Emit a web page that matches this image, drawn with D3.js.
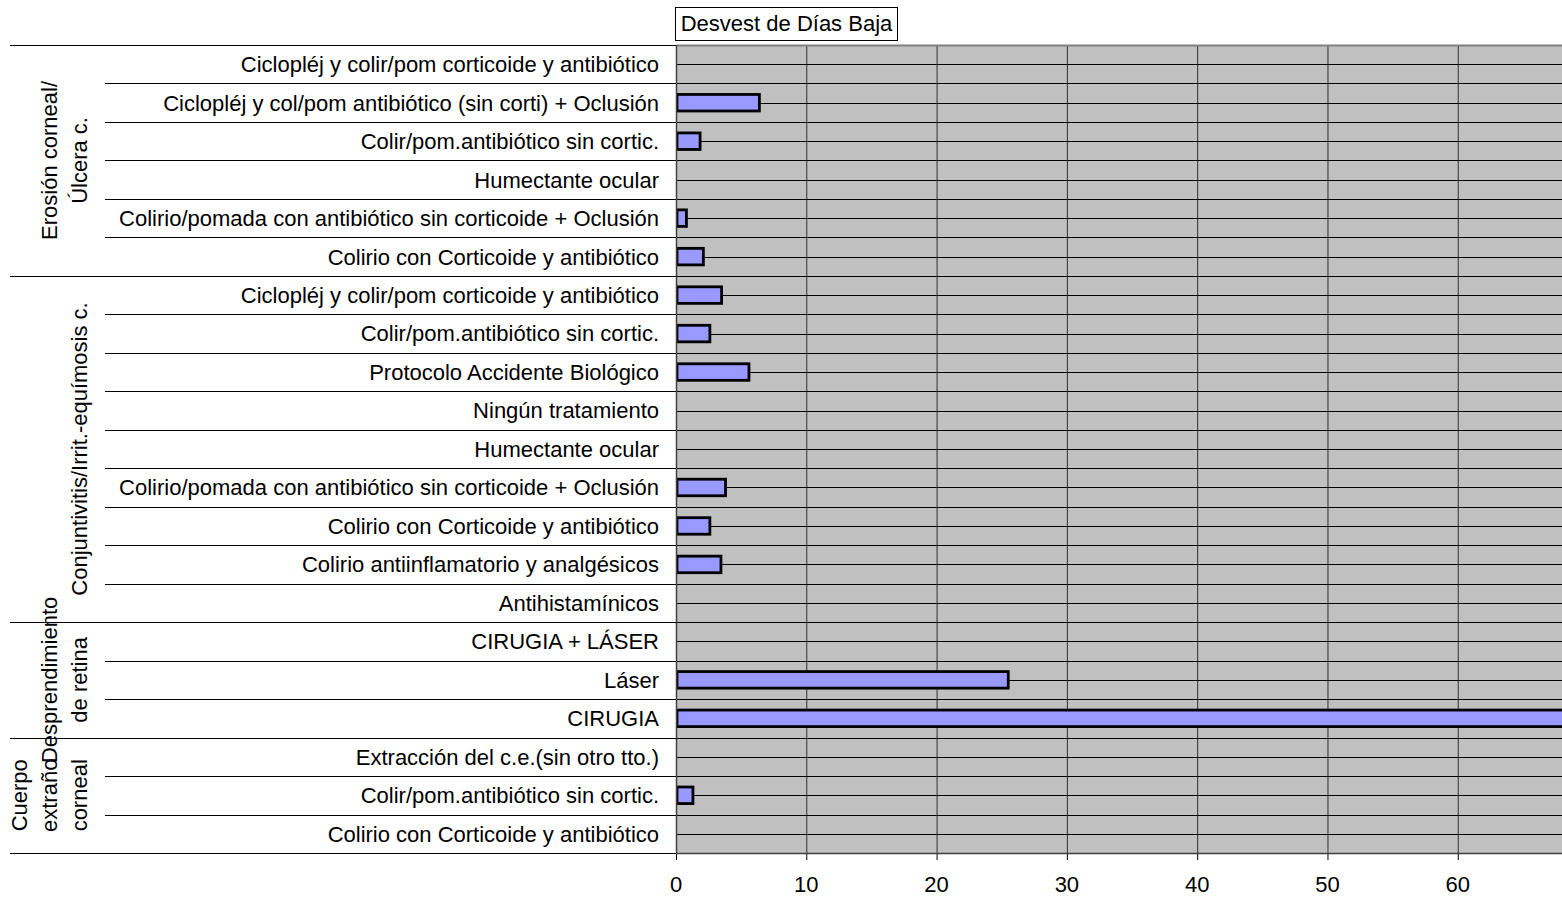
<!DOCTYPE html>
<html>
<head>
<meta charset="utf-8">
<script src="https://cdn.jsdelivr.net/npm/d3@7"></script>
<style>
  html, body { margin: 0; padding: 0; background: #fff; }
  text { font-family: Arial, "Liberation Sans", sans-serif; }
</style>
</head>
<body>
<svg id="chart" width="1562" height="897"></svg>
<script>
// ---- Data ----
const title = "Desvest de Días Baja";

const categories = [
  "Ciclopléj y colir/pom corticoide y antibiótico",
  "Ciclopléj y col/pom antibiótico (sin corti) + Oclusión",
  "Colir/pom.antibiótico sin cortic.",
  "Humectante ocular",
  "Colirio/pomada con antibiótico sin corticoide + Oclusión",
  "Colirio con Corticoide y antibiótico",
  "Ciclopléj y colir/pom corticoide y antibiótico",
  "Colir/pom.antibiótico sin cortic.",
  "Protocolo Accidente Biológico",
  "Ningún tratamiento",
  "Humectante ocular",
  "Colirio/pomada con antibiótico sin corticoide + Oclusión",
  "Colirio con Corticoide y antibiótico",
  "Colirio antiinflamatorio y analgésicos",
  "Antihistamínicos",
  "CIRUGIA + LÁSER",
  "Láser",
  "CIRUGIA",
  "Extracción del c.e.(sin otro tto.)",
  "Colir/pom.antibiótico sin cortic.",
  "Colirio con Corticoide y antibiótico"
];
// index of the group each category belongs to
const categoryGroup = [0,0,0,0,0,0, 1,1,1,1,1,1,1,1,1, 2,2,2, 3,3,3];

const values = [
  0, 6.4, 1.85, 0, 0.8, 2.1,
  3.5, 2.6, 5.6, 0, 0, 3.8, 2.6, 3.45, 0,
  0, 25.5, 75,
  0, 1.3, 0
];

const groupLabels = [
  ["Erosión corneal/", "Úlcera c."],
  ["Conjuntivitis/Irrit.-equímosis c."],
  ["Desprendimiento", "de retina"],
  ["Cuerpo", "extraño", "corneal"]
];

const xTicks = [0, 10, 20, 30, 40, 50, 60];

// ---- Layout ----
const W = 1562, H = 897;
const plot = { left: 676, right: 1562, top: 45, bottom: 853 };
const fontSize = 22;

const svg = d3.select("#chart");

const x = d3.scaleLinear().domain([0, 68]).range([plot.left, plot.right]);
const keys = categories.map((c, i) => i);
const y = d3.scaleBand().domain(keys).range([plot.top, plot.bottom]).padding(0);
const step = y.step();
const barH = step * 0.43;

// plot background
svg.append("rect")
  .attr("x", plot.left).attr("y", plot.top)
  .attr("width", plot.right - plot.left).attr("height", plot.bottom - plot.top)
  .attr("fill", "#C0C0C0");

svg.append("defs").append("clipPath").attr("id", "clip")
  .append("rect")
  .attr("x", plot.left).attr("y", plot.top)
  .attr("width", plot.right - plot.left).attr("height", plot.bottom - plot.top);

// vertical grid
svg.append("g").selectAll("line").data(xTicks).join("line")
  .attr("x1", d => x(d) + 0.5).attr("x2", d => x(d) + 0.5)
  .attr("y1", plot.top).attr("y2", plot.bottom)
  .attr("stroke", "#303030").attr("stroke-width", 1);

// horizontal grid at row boundaries and row centres
const hLines = [];
keys.forEach(k => { hLines.push(y(k)); hLines.push(y(k) + step / 2); });
svg.append("g").selectAll("line").data(hLines.filter(v => v > plot.top + 1)).join("line")
  .attr("x1", plot.left).attr("x2", plot.right)
  .attr("y1", d => Math.round(d) + 0.5).attr("y2", d => Math.round(d) + 0.5)
  .attr("stroke", "#000").attr("stroke-width", 1);

// bars
svg.append("g").attr("clip-path", "url(#clip)")
  .selectAll("rect").data(keys.filter(k => values[k] > 0)).join("rect")
  .attr("x", x(0) + 1)
  .attr("y", k => y(k) + step / 2 - barH / 2)
  .attr("width", k => x(values[k]) - x(0) - 1)
  .attr("height", barH)
  .attr("fill", "#9999FF")
  .attr("stroke", "#000")
  .attr("stroke-width", 2.8);

// top plot border
svg.append("line")
  .attr("x1", plot.left).attr("x2", plot.right)
  .attr("y1", plot.top + 0.5).attr("y2", plot.top + 0.5)
  .attr("stroke", "#808080").attr("stroke-width", 2);

// left axis line
svg.append("line")
  .attr("x1", plot.left + 0.5).attr("x2", plot.left + 0.5)
  .attr("y1", plot.top).attr("y2", plot.bottom)
  .attr("stroke", "#404040").attr("stroke-width", 1.5);

// category boundary lines in label area
svg.append("g").selectAll("line").data(keys.filter(k => k > 0 && categoryGroup[k] === categoryGroup[k - 1])).join("line")
  .attr("x1", 105).attr("x2", plot.left)
  .attr("y1", k => Math.round(y(k)) + 0.5).attr("y2", k => Math.round(y(k)) + 0.5)
  .attr("stroke", "#000").attr("stroke-width", 1);

// group boundary lines
const groupStarts = keys.filter(k => k === 0 || categoryGroup[k] !== categoryGroup[k - 1]);
const groupBounds = groupStarts.map(k => y(k)).concat([plot.bottom]);
svg.append("g").selectAll("line").data(groupBounds).join("line")
  .attr("x1", 10).attr("x2", (d, i) => (i === 0 ? plot.left : plot.right))
  .attr("y1", d => Math.round(d) + 0.5).attr("y2", d => Math.round(d) + 0.5)
  .attr("stroke", "#000").attr("stroke-width", 1);

// category labels
svg.append("g").selectAll("text").data(keys).join("text")
  .attr("x", 659)
  .attr("y", k => y(k) + step / 2)
  .attr("dy", "0.36em")
  .attr("text-anchor", "end")
  .attr("font-size", fontSize)
  .attr("fill", "#000")
  .text(k => categories[k]);

// group labels (rotated)
groupLabels.forEach((lines, gi) => {
  const members = keys.filter(k => categoryGroup[k] === gi);
  const yc = (y(members[0]) + y(members[members.length - 1]) + step) / 2;
  const n = lines.length;
  lines.forEach((line, li) => {
    const bx = 87 - (n - 1 - li) * 30;
    svg.append("text")
      .attr("transform", `translate(${bx},${yc}) rotate(-90)`)
      .attr("text-anchor", "middle")
      .attr("font-size", fontSize)
      .attr("fill", "#000")
      .text(line);
  });
});

// x axis
const xAxis = svg.append("g");
xAxis.selectAll("line").data(xTicks).join("line")
  .attr("x1", d => x(d) + 0.5).attr("x2", d => x(d) + 0.5)
  .attr("y1", plot.bottom).attr("y2", plot.bottom + 7)
  .attr("stroke", "#000");
xAxis.selectAll("text").data(xTicks).join("text")
  .attr("x", d => x(d))
  .attr("y", 892)
  .attr("text-anchor", "middle")
  .attr("font-size", fontSize)
  .attr("fill", "#000")
  .text(d => d);
svg.append("line")
  .attr("x1", plot.left).attr("x2", plot.right)
  .attr("y1", plot.bottom + 0.5).attr("y2", plot.bottom + 0.5)
  .attr("stroke", "#404040").attr("stroke-width", 1.5);

// title box
const tg = svg.append("g");
tg.append("rect")
  .attr("x", 675.5).attr("y", 7.5)
  .attr("width", 222).attr("height", 33)
  .attr("fill", "#fff").attr("stroke", "#000").attr("stroke-width", 1);
tg.append("text")
  .attr("x", 786.5).attr("y", 31)
  .attr("text-anchor", "middle")
  .attr("font-size", fontSize)
  .attr("fill", "#000")
  .text(title);
</script>
</body>
</html>
